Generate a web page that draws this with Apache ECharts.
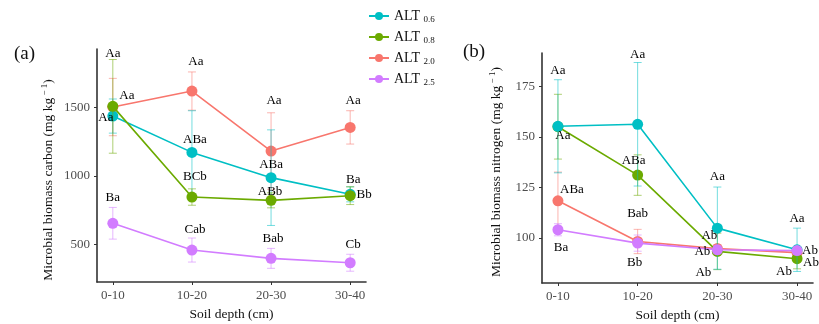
<!DOCTYPE html>
<html>
<head>
<meta charset="utf-8">
<script src="https://cdn.jsdelivr.net/npm/echarts@6/dist/echarts.min.js"></script>
<style>
  html, body { margin: 0; padding: 0; background: #fff; }
  #chart { width: 819px; height: 324px; }
</style>
</head>
<body>
<div id="chart"></div>
<script>
// categories and groups
const depths = ['0-10', '10-20', '20-30', '30-40'];
const groups = ['0.6', '0.8', '2.0', '2.5'];

// (a) microbial biomass carbon: means, error half-widths, letters
const carbon06 = [1439, 1173, 988, 866];
const carbon06Err = [125, 305, 350, 55];
const carbon08 = [1510, 846, 822, 856];
const carbon08Err = [343, 60, 55, 65];
const carbon20 = [1505, 1622, 1183, 1356];
const carbon20Err = [210, 140, 280, 122];
const carbon25 = [654, 458, 397, 365];
const carbon25Err = [116, 88, 73, 62];
const carbon06Txt = ['Aa', 'ABa', 'ABa', 'Ba'];
const carbon08Txt = ['Aa', 'BCb', 'ABb', 'Bb'];
const carbon20Txt = ['Aa', 'Aa', 'Aa', 'Aa'];
const carbon25Txt = ['Ba', 'Cab', 'Bab', 'Cb'];

// (b) microbial biomass nitrogen
const nitro06 = [155.2, 156.2, 104.9, 94.2];
const nitro06Err = [23, 30.5, 20.3, 10.7];
const nitro08 = [155.0, 131.1, 93.4, 89.8];
const nitro08Err = [16, 10, 9, 5];
const nitro20 = [118.4, 98.3, 94.8, 92.8];
const nitro20Err = [14.2, 6, 2, 2];
const nitro25 = [104.1, 97.5, 94.2, 93.8];
const nitro25Err = [3, 4, 2, 2];
const nitro06Txt = ['Aa', 'Aa', 'Aa', 'Aa'];
const nitro08Txt = ['Aa', 'ABa', 'Ab', 'Ab'];
const nitro20Txt = ['ABa', 'Bab', 'Ab', 'Ab'];
const nitro25Txt = ['Ba', 'Bb', 'Ab', 'Ab'];

// tick labels
const carbonTicks = [500, 1000, 1500];
const nitroTicks = [100, 125, 150, 175];

/* ---------------------------- layout / styling --------------------------- */
const colors = ['#00BFC4', '#6BAA00', '#F8766D', '#D27CFF'];
// z per panel (which point sits on top where they overlap)
const drawOrder = [
  [3, 4, 2, 5],
  [4, 3, 2, 5],
];
const serif = 'Liberation Serif';

// label offsets (px from the point centre)
const carbonOff = [
  [[-7, 2], [3, -13], [0, -13], [3, -15]],
  [[0, -53], [3, -20], [-1, -9], [14, -1]],
  [[14, -11], [4, -29], [3, -50], [3, -27]],
  [[0, -26], [3, -20], [2, -20], [3, -18]],
];
const nitroOff = [
  [[0, -56], [0, -70], [0, -52], [0, -31]],
  [[5, 9], [-4, -15], [-8, -16], [14, 4]],
  [[14, -11], [0, -28], [-15, 3], [-13, 19]],
  [[3, 18], [-3, 19], [-14, 23], [13, 0]],
];

const carbonSets = [
  [carbon06, carbon06Err, carbon06Txt],
  [carbon08, carbon08Err, carbon08Txt],
  [carbon20, carbon20Err, carbon20Txt],
  [carbon25, carbon25Err, carbon25Txt],
];
const nitroSets = [
  [nitro06, nitro06Err, nitro06Txt],
  [nitro08, nitro08Err, nitro08Txt],
  [nitro20, nitro20Err, nitro20Txt],
  [nitro25, nitro25Err, nitro25Txt],
];

const seriesName = g => 'ALT' + g;

const errorSeries = (idx, means, errs, color, z) => ({
  type: 'custom',
  xAxisIndex: idx,
  yAxisIndex: idx,
  z: z,
  silent: true,
  encode: { x: 0, y: [1, 2] },
  data: means.map((m, i) => [i + 1, m - errs[i], m + errs[i]]),
  renderItem(params, api) {
    const x = api.value(0);
    const top = api.coord([x, api.value(2)]);
    const bot = api.coord([x, api.value(1)]);
    const w = 4;
    const style = { stroke: color, lineWidth: 1, opacity: 0.55 };
    return {
      type: 'group',
      children: [
        { type: 'line', shape: { x1: top[0], y1: top[1], x2: bot[0], y2: bot[1] }, style },
        { type: 'line', shape: { x1: top[0] - w, y1: top[1], x2: top[0] + w, y2: top[1] }, style },
        { type: 'line', shape: { x1: bot[0] - w, y1: bot[1], x2: bot[0] + w, y2: bot[1] }, style },
      ],
    };
  },
});

const lineSeries = (idx, g, means, color, z) => ({
  type: 'line',
  name: seriesName(g),
  xAxisIndex: idx,
  yAxisIndex: idx,
  z: z,
  data: means.map((m, i) => [i + 1, m]),
  symbol: 'circle',
  symbolSize: 11,
  showSymbol: true,
  itemStyle: { color: color },
  lineStyle: { color: color, width: 1.6 },
});

const letterSeries = (idx, means, txt, offs) => ({
  type: 'scatter',
  xAxisIndex: idx,
  yAxisIndex: idx,
  z: 10,
  silent: true,
  symbolSize: 1,
  itemStyle: { color: 'transparent' },
  data: means.map((m, i) => ({
    value: [i + 1, m],
    label: { formatter: txt[i], offset: offs[i] },
  })),
  label: {
    show: true,
    position: 'inside',
    color: '#000',
    textBorderWidth: 0,
    opacity: 1,
    fontFamily: serif,
    fontSize: 13,
  },
});

const series = [];
[carbonSets, nitroSets].forEach((sets, idx) => {
  const offs = idx === 0 ? carbonOff : nitroOff;
  sets.forEach(([means, errs, txt], k) => {
    const z = drawOrder[idx][k];
    series.push(errorSeries(idx, means, errs, colors[k], z - 0.5));
    series.push(lineSeries(idx, groups[k], means, colors[k], z));
    series.push(letterSeries(idx, means, txt, offs[k]));
  });
});

const xAxis = idx => ({
  type: 'value',
  gridIndex: idx,
  min: 0.8,
  max: 4.2,
  name: 'Soil depth (cm)',
  nameLocation: 'middle',
  nameGap: 25,
  nameTextStyle: { fontFamily: serif, fontSize: 13.5, color: '#111' },
  axisLine: { show: true, lineStyle: { color: '#333', width: 1.6 } },
  axisTick: { show: true, length: 3, customValues: [1, 2, 3, 4], lineStyle: { color: '#333' } },
  axisLabel: {
    customValues: [1, 2, 3, 4],
    formatter: v => depths[v - 1],
    fontFamily: serif,
    fontSize: 13,
    color: '#4d4d4d',
    margin: 7,
  },
  splitLine: { show: false },
});

const yAxis = (idx, min, max, ticks) => ({
  type: 'value',
  gridIndex: idx,
  min: min,
  max: max,
  axisLine: { show: true, lineStyle: { color: '#333', width: 1.6 } },
  axisTick: { show: true, length: 3, customValues: ticks, lineStyle: { color: '#333' } },
  axisLabel: {
    customValues: ticks,
    formatter: v => String(v),
    fontFamily: serif,
    fontSize: 13,
    color: '#4d4d4d',
    margin: 7,
  },
  splitLine: { show: false },
});

const yTitle = (x, y, text) => ({
  type: 'text',
  x: x,
  y: y,
  rotation: Math.PI / 2,
  style: {
    text: text,
    align: 'center',
    verticalAlign: 'middle',
    fontFamily: serif,
    fontSize: 13.5,
    fill: '#111',
    rich: { s: { fontFamily: serif, fontSize: 9, fill: '#111', verticalAlign: 'top', padding: [0, 0, 6, 0] } },
  },
});

const chart = echarts.init(document.getElementById('chart'));
chart.setOption({
  animation: false,
  backgroundColor: '#fff',
  legend: {
    data: groups.map(seriesName),
    orient: 'vertical',
    left: 363,
    top: 4,
    itemWidth: 20,
    itemHeight: 10,
    itemGap: 6,
    textStyle: {
      fontFamily: serif,
      fontSize: 14,
      color: '#111',
      rich: { s: { fontFamily: serif, fontSize: 9, color: '#111', padding: [7, 0, 0, 0] } },
    },
    formatter: name => 'ALT {s|' + name.slice(3) + '}',
  },
  grid: [
    { left: 97, top: 49, width: 269, height: 233, outerBoundsMode: 'none' },
    { left: 542, top: 53, width: 271, height: 230, outerBoundsMode: 'none' },
  ],
  xAxis: [xAxis(0), xAxis(1)],
  yAxis: [
    yAxis(0, 224, 1930, carbonTicks),
    yAxis(1, 77.8, 191.4, nitroTicks),
  ],
  graphic: [
    { type: 'text', left: 14, top: 45, style: { text: '(a)', fontFamily: serif, fontSize: 19, fill: '#111' } },
    { type: 'text', left: 463, top: 43, style: { text: '(b)', fontFamily: serif, fontSize: 19, fill: '#111' } },
    yTitle(48, 180, 'Microbial biomass carbon (mg kg{s| − 1})'),
    yTitle(496, 172, 'Microbial biomass nitrogen (mg kg{s| − 1})'),
  ],
  series: series,
});
</script>
</body>
</html>
